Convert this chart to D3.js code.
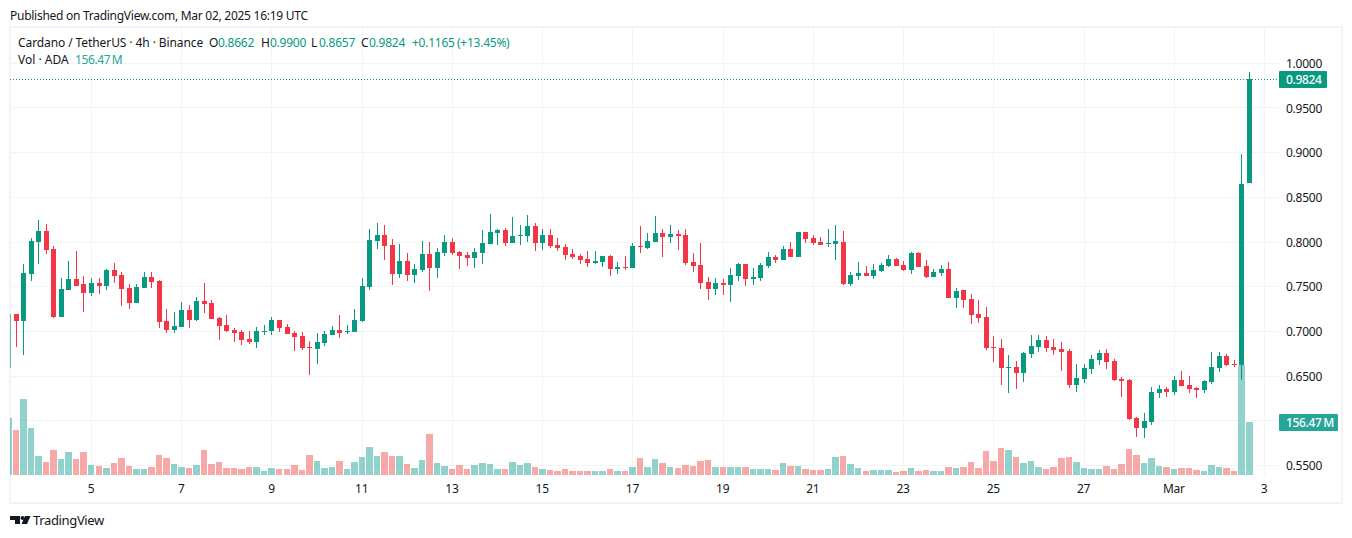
<!DOCTYPE html>
<html><head><meta charset="utf-8">
<script src="https://cdn.jsdelivr.net/npm/d3@7"></script>
<style>
html,body{margin:0;padding:0;background:#fff}
svg{display:block}
text{font-family:"Noto Sans",sans-serif;font-size:12px;fill:#131722}
</style></head><body>
<svg id="c" width="1352" height="538"></svg>
<script>
const opens=[.6595,
.7194,.7119,.7644,.7997,.8120,.7919,.7160,.7462,.7584,.7529,
.7428,.7540,.7506,.7685,.7629,.7484,.7317,.7484,.7607,.7562,
.7116,.7015,.7049,.7238,.7127,.7339,.7317,.7149,.7071,.7015,
.6993,.6915,.6881,.6993,.7004,.7127,.7049,.6982,.6948,.6825,
.6803,.6870,.6959,.7015,.6993,.6993,.7116,.7495,.8008,.8075,
.7964,.7640,.7785,.7629,.7685,.7863,.7707,.7875,.7997,.7886,
.7852,.7819,.7875,.7975,.8098,.8131,.7986,.8064,.8064,.8176,
.7986,.8075,.7964,.7941,.7863,.7841,.7808,.7763,.7774,.7841,
.7696,.7718,.7707,.7953,.7930,.7997,.8098,.8053,.8087,.8075,
.7774,.7741,.7551,.7473,.7540,.7517,.7618,.7752,.7584,.7596,
.7729,.7830,.7796,.7919,.7830,.8109,.8042,.7997,.7975,.7975,
.7997,.7529,.7618,.7651,.7618,.7674,.7729,.7808,.7741,.7685,
.7875,.7729,.7607,.7651,.7696,.7372,.7462,.7361,.7194,.7160,
.6825,.6814,.6591,.6602,.6535,.6747,.6825,.6904,.6825,.6803,
.6781,.6401,.6468,.6580,.6680,.6759,.6669,.6468,.6457,.6033,
.5921,.5988,.6312,.6357,.6323,.6457,.6401,.6368,.6346,.6435,
.6591,.6725,.6636,.6627,.8662];
const highs=[.7194,
.7194,.7752,.8042,.8243,.8198,.7953,.7596,.7785,.7897,.7618,
.7596,.7596,.7696,.7763,.7662,.7529,.7529,.7662,.7662,.7573,
.7250,.7216,.7328,.7294,.7383,.7540,.7350,.7160,.7183,.7037,
.7015,.7004,.7049,.7071,.7160,.7127,.7082,.7004,.6993,.6892,
.6982,.7004,.7060,.7183,.7071,.7250,.7596,.8142,.8209,.8187,
.8031,.7975,.7875,.7752,.8008,.7997,.7930,.8075,.8042,.7897,
.7886,.7930,.8131,.8310,.8142,.8154,.8276,.8187,.8299,.8209,
.8142,.8142,.8042,.7975,.7919,.7863,.7897,.7897,.7841,.7852,
.7774,.7841,.7986,.8176,.8098,.8287,.8142,.8187,.8131,.8142,
.7875,.7986,.7607,.7596,.7584,.7707,.7763,.7752,.7707,.7763,
.7886,.7852,.7953,.7997,.8109,.8109,.8075,.8053,.8142,.8187,
.8120,.7662,.7774,.7729,.7752,.7763,.7852,.7819,.7785,.7886,
.7886,.7796,.7696,.7741,.7774,.7484,.7462,.7417,.7350,.7272,
.6948,.6915,.6736,.6669,.6770,.6959,.6959,.6948,.6915,.6881,
.6803,.6636,.6636,.6736,.6792,.6803,.6692,.6491,.6468,.6044,
.6089,.6379,.6401,.6379,.6502,.6558,.6502,.6379,.6457,.6770,
.6770,.6747,.6680,.8990,.9900];
const lows=[.6595,
.6829,.6736,.7562,.7752,.7863,.7149,.7160,.7462,.7506,.7216,
.7395,.7417,.7462,.7540,.7283,.7250,.7317,.7484,.7484,.7037,
.6982,.6982,.7049,.7037,.7116,.7205,.7138,.6904,.6993,.6881,
.6848,.6859,.6814,.6959,.6959,.6993,.6970,.6781,.6792,.6513,
.6636,.6837,.6959,.6926,.6970,.6993,.7104,.7462,.7919,.7796,
.7517,.7596,.7562,.7540,.7662,.7450,.7596,.7841,.7852,.7696,
.7729,.7707,.7752,.7975,.7964,.7953,.7986,.7964,.7997,.7897,
.7908,.7930,.7897,.7796,.7808,.7752,.7718,.7752,.7718,.7618,
.7640,.7685,.7707,.7875,.7919,.7997,.7830,.7986,.7908,.7741,
.7662,.7473,.7350,.7406,.7406,.7328,.7562,.7506,.7517,.7562,
.7707,.7763,.7796,.7830,.7830,.7986,.7964,.7964,.7941,.7796,
.7517,.7506,.7573,.7618,.7584,.7662,.7718,.7729,.7674,.7640,
.7718,.7596,.7607,.7618,.7372,.7261,.7261,.7082,.7093,.6792,
.6658,.6401,.6312,.6357,.6435,.6703,.6770,.6770,.6736,.6558,
.6368,.6323,.6424,.6524,.6625,.6580,.6446,.6267,.6011,.5821,
.5810,.5955,.6256,.6267,.6290,.6390,.6312,.6256,.6312,.6413,
.6546,.6613,.6602,.6457,.8657];
const closes=[.7194,
.7119,.7651,.8008,.8120,.7908,.7160,.7473,.7584,.7506,.7428,
.7540,.7506,.7685,.7618,.7473,.7317,.7495,.7607,.7551,.7104,
.7015,.7060,.7238,.7127,.7339,.7305,.7138,.7060,.7004,.6982,
.6904,.6881,.7004,.7004,.7127,.7037,.6970,.6937,.6814,.6814,
.6881,.6970,.7015,.6982,.7004,.7127,.7506,.8020,.8075,.7953,
.7640,.7785,.7629,.7696,.7863,.7707,.7886,.7997,.7875,.7841,
.7819,.7886,.7986,.8109,.8131,.7986,.8064,.8075,.8176,.7986,
.8075,.7953,.7930,.7852,.7830,.7796,.7763,.7785,.7841,.7696,
.7718,.7707,.7953,.7941,.8008,.8098,.8053,.8087,.8064,.7763,
.7729,.7540,.7473,.7540,.7517,.7629,.7752,.7584,.7607,.7741,
.7830,.7796,.7919,.7830,.8109,.8031,.7986,.7964,.7986,.8008,
.7529,.7629,.7651,.7618,.7685,.7741,.7808,.7729,.7685,.7875,
.7718,.7607,.7662,.7696,.7372,.7450,.7350,.7183,.7149,.6814,
.6814,.6591,.6602,.6535,.6759,.6837,.6904,.6814,.6792,.6770,
.6401,.6479,.6591,.6692,.6759,.6658,.6457,.6446,.6022,.5921,
.6000,.6323,.6357,.6323,.6457,.6390,.6357,.6346,.6446,.6602,
.6725,.6625,.6625,.8655,.9824];
const volumes=[167.3,
132.8,224.4,138.7,56.1,38.4,73.8,47.2,67.9,47.2,67.9,
29.5,26.6,20.7,35.4,50.2,26.6,17.7,17.7,23.6,59,
50.2,32.5,23.6,20.7,29.5,73.8,32.5,38.4,20.7,20.7,
17.7,23.6,23.6,11.8,20.7,17.7,17.7,29.5,14.8,59,
41.3,20.7,23.6,41.3,17.7,38.4,53.1,82.7,56.1,67.9,
56.1,56.1,32.5,20.7,44.3,121,35.4,26.6,17.7,29.5,
17.7,29.5,35.4,32.5,17.7,17.7,38.4,29.5,35.4,23.6,
17.7,14.8,11.8,17.7,11.8,11.8,11.8,11.8,11.8,17.7,
11.8,11.8,23.6,50.2,23.6,47.2,35.4,23.6,20.7,29.5,
26.6,41.3,44.3,23.6,23.6,23.6,23.6,23.6,17.7,17.7,
17.7,14.8,35.4,26.6,26.6,17.7,14.8,14.8,17.7,53.1,
56.1,32.5,20.7,11.8,14.8,14.8,14.8,8.9,11.8,20.7,
11.8,14.8,11.8,11.8,23.6,20.7,23.6,38.4,20.7,70.8,
41.3,79.7,73.8,53.1,35.4,41.3,23.6,17.7,23.6,50.2,
53.1,38.4,20.7,17.7,17.7,26.6,17.7,32.5,76.8,59,
35.4,50.2,26.6,23.6,17.7,20.7,20.7,14.8,11.8,29.5,
23.6,20.7,11.8,324.7,156.47];
const gridPrices=[0.55,0.60,0.65,0.70,0.75,0.80,0.85,0.90,0.95,1.00];
const labelledPrices=[0.55,0.65,0.70,0.75,0.80,0.85,0.90,0.95,1.00];
const dateTickIndex=[11,23,35,47,59,71,83,95,107,119,131,143,155,167];
const dateTickLabels=["5","7","9","11","13","15","17","19","21","23","25","27","Mar","3"];
const lastPrice=0.9824, lastVolumeLabel="156.47\u202fM";

const UP="#089981",DOWN="#f23645",VUP="#26a69a",VDOWN="#ef5350",GRID="#f3f4f6",BORDER="#f0f3fa",INK="#131722";
const svg=d3.select("#c");
const pane={l:10,r:1278,t:27,b:475};
const x=d3.scaleLinear().domain([1,165]).range([16.3,1249.5]);
const y=d3.scaleLinear().domain([1,0.55]).range([63.3,465.5]);
const yv=d3.scaleLinear().domain([0,156.47]).range([475,422]);

svg.append("defs").append("clipPath").attr("id","pane").append("rect")
  .attr("x",pane.l).attr("y",pane.t).attr("width",pane.r-pane.l).attr("height",pane.b-pane.t);

// frame
svg.append("rect").attr("x",10).attr("y",27).attr("width",1332).attr("height",476)
  .attr("fill","none").attr("stroke",BORDER).attr("stroke-width",2);

// grid
const g=svg.append("g").attr("shape-rendering","crispEdges");
g.selectAll("line.h").data(gridPrices).join("line").attr("class","h")
  .attr("x1",pane.l).attr("x2",pane.r).attr("y1",d=>Math.floor(y(d))+.5).attr("y2",d=>Math.floor(y(d))+.5)
  .attr("stroke",GRID);
g.selectAll("line.v").data(dateTickIndex).join("line").attr("class","v")
  .attr("x1",d=>Math.floor(x(d))+.5).attr("x2",d=>Math.floor(x(d))+.5).attr("y1",pane.t).attr("y2",pane.b)
  .attr("stroke",GRID);

const marks=svg.append("g").attr("clip-path","url(#pane)").attr("shape-rendering","crispEdges");
const idx=d3.range(opens.length);
const isUp=i=>closes[i]>=opens[i];

// volume
marks.append("g").selectAll("rect").data(idx).join("rect")
  .attr("x",i=>Math.round(x(i)-3.5))
  .attr("width",i=>Math.round(x(i)+3)-Math.round(x(i)-3.5))
  .attr("y",i=>Math.round(yv(volumes[i])))
  .attr("height",i=>475-Math.round(yv(volumes[i])))
  .attr("fill",i=>isUp(i)?VUP:VDOWN).attr("fill-opacity",.5);

// last price line
svg.append("line").attr("x1",pane.l).attr("x2",pane.r).attr("y1",Math.floor(y(lastPrice))+.5).attr("y2",Math.floor(y(lastPrice))+.5)
  .attr("stroke",UP).attr("stroke-dasharray","1 2").attr("shape-rendering","crispEdges");

// wicks and bodies
marks.append("g").selectAll("rect").data(idx).join("rect")
  .attr("x",i=>Math.round(x(i)-.5)).attr("width",1)
  .attr("y",i=>Math.round(y(highs[i])))
  .attr("height",i=>Math.max(1,Math.round(y(lows[i]))-Math.round(y(highs[i]))))
  .attr("fill",i=>isUp(i)?UP:DOWN);
marks.append("g").selectAll("rect").data(idx).join("rect")
  .attr("x",i=>Math.round(x(i)-2.5)).attr("width",5)
  .attr("y",i=>Math.round(y(Math.max(opens[i],closes[i]))))
  .attr("height",i=>Math.max(1,Math.round(y(Math.min(opens[i],closes[i])))-Math.round(y(Math.max(opens[i],closes[i])))))
  .attr("fill",i=>isUp(i)?UP:DOWN)
  .attr("fill-opacity",i=>i===0?0.6:1);

// axes
const ax=svg.append("g").attr("transform","translate(1278,0.4)")
  .call(d3.axisRight(y).tickValues(labelledPrices).tickFormat(d3.format(".4f")).tickSize(0).tickPadding(8));
ax.select(".domain").remove();
const bx=svg.append("g").attr("transform","translate(-1,476)")
  .call(d3.axisBottom(x).tickValues(dateTickIndex).tickFormat((d,i)=>dateTickLabels[i]).tickSize(0).tickPadding(8));
bx.select(".domain").remove();
svg.selectAll(".tick text").style("font-family",'"Noto Sans",sans-serif').style("font-size","12px").attr("fill",INK).style("letter-spacing","-0.25px");

// value tags
function tag(y0,h,w,bg,txt){
  svg.append("rect").attr("x",1279).attr("y",y0).attr("width",w).attr("height",h).attr("fill",bg).attr("rx",1);
  svg.append("text").attr("x",1286).attr("y",y0+h/2).attr("dy",".35em").style("fill","#fff").style("font-weight",500).style("letter-spacing","-0.35px").text(txt);
}
tag(71,17,48,UP,d3.format(".4f")(lastPrice));
tag(414,17,59,VUP,lastVolumeLabel);

// header text
svg.append("text").attr("x",10).attr("y",20).style("letter-spacing","-0.27px").text("Published on TradingView.com, Mar 02, 2025 16:19 UTC");
const legend=[[18,"Cardano / TetherUS · 4h · Binance",INK,-0.09],[209,"O",INK,0],[218,"0.8662",UP,-0.25],[261,"H",INK,0],[270,"0.9900",UP,-0.25],
 [311,"L",INK,0],[319,"0.8657",UP,-0.25],[361,"C",INK,0],[369,"0.9824",UP,-0.25],[412,"+0.1165",UP,-0.25],[457,"(+13.45%)",UP,-0.25]];
svg.append("g").selectAll("text").data(legend).join("text").attr("x",d=>d[0]).attr("y",47).style("fill",d=>d[2]).style("letter-spacing",d=>d[3]+"px").text(d=>d[1]);
const legend2=[[18,"Vol · ADA",INK,0],[75,"156.47\u202fM",VUP,-0.4]];
svg.append("g").selectAll("text").data(legend2).join("text").attr("x",d=>d[0]).attr("y",64).style("fill",d=>d[2]).style("letter-spacing",d=>d[3]+"px").text(d=>d[1]);

// logo
const logo=svg.append("g").attr("fill",INK);
logo.append("path").attr("d","M10 516H20V524H15V520H10Z");
logo.append("circle").attr("cx",22.5).attr("cy",518).attr("r",2);
logo.append("path").attr("d","M25 516H30.5L27 524H21.5Z");
svg.append("text").attr("x",33).attr("y",525).style("font-size","13px").style("letter-spacing","-0.35px").text("TradingView");
</script>
</body></html>
